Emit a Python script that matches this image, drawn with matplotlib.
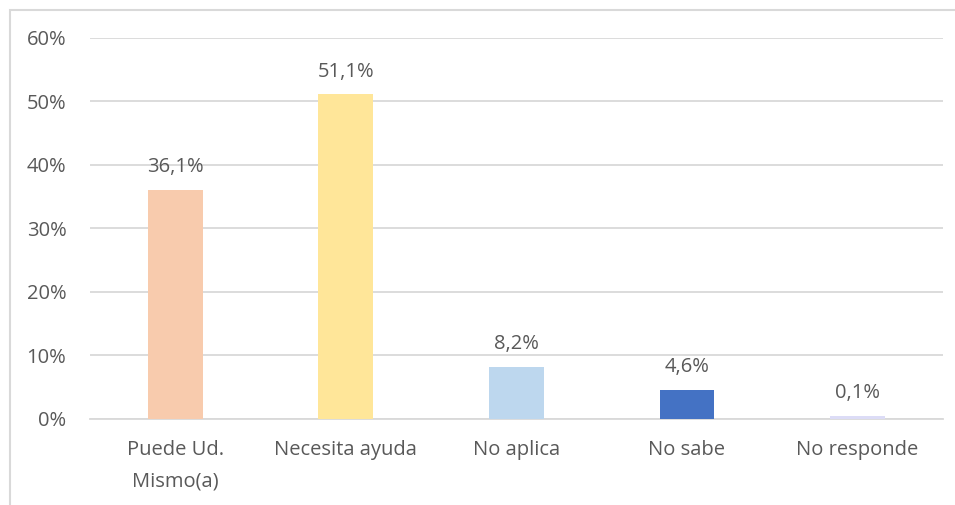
import matplotlib.pyplot as plt
from matplotlib.patches import Rectangle

categories = ["Puede Ud.\nMismo(a)", "Necesita ayuda", "No aplica", "No sabe", "No responde"]
values = [36.1, 51.1, 8.2, 4.6, 0.5]
labels = ["36,1%", "51,1%", "8,2%", "4,6%", "0,1%"]
colors = ["#F8CBAD", "#FFE699", "#BDD7EE", "#4472C4", "#DCDCF6"]
yticks = [0, 10, 20, 30, 40, 50, 60]
ytick_labels = ["0%", "10%", "20%", "30%", "40%", "50%", "60%"]

plt.rcParams['font.family'] = ['Open Sans', 'DejaVu Sans']
text_color = "#595959"
grid_color = "#D9D9D9"

fig = plt.figure(figsize=(9.55, 5.05), dpi=100)
ax = fig.add_axes([0.0942, 0.1703, 0.8928, 0.7545])

x = range(len(categories))
bars = ax.bar(x, values, width=0.32, color=colors, zorder=3)
for b, lab in zip(bars, labels):
    ax.annotate(lab, (b.get_x() + b.get_width() / 2, b.get_height()),
                xytext=(0, 9), textcoords="offset points",
                ha="center", va="bottom", fontsize=14.5, color=text_color)

ax.set_xlim(-0.5, len(categories) - 0.5)
ax.set_ylim(0, 60)
ax.set_yticks(yticks)
ax.set_yticklabels(ytick_labels)
ax.set_xticks(list(x))
ax.set_xticklabels(categories, linespacing=1.75)
ax.tick_params(axis="y", length=0, pad=17, labelsize=14.5, labelcolor=text_color)
ax.tick_params(axis="x", length=0, pad=15, labelsize=14.5, labelcolor=text_color)
ax.grid(axis="y", color=grid_color, linewidth=1.3, zorder=0)
for s in ["top", "right", "left"]:
    ax.spines[s].set_visible(False)
ax.spines["bottom"].set_color(grid_color)
ax.spines["bottom"].set_linewidth(1.3)

fig.patches.append(Rectangle((10 / 955, -0.2), 1.2, 1 - 10 / 505 + 0.2,
                             transform=fig.transFigure, fill=False,
                             edgecolor=grid_color, linewidth=1.5))

fig.savefig("out.png", dpi=100)
